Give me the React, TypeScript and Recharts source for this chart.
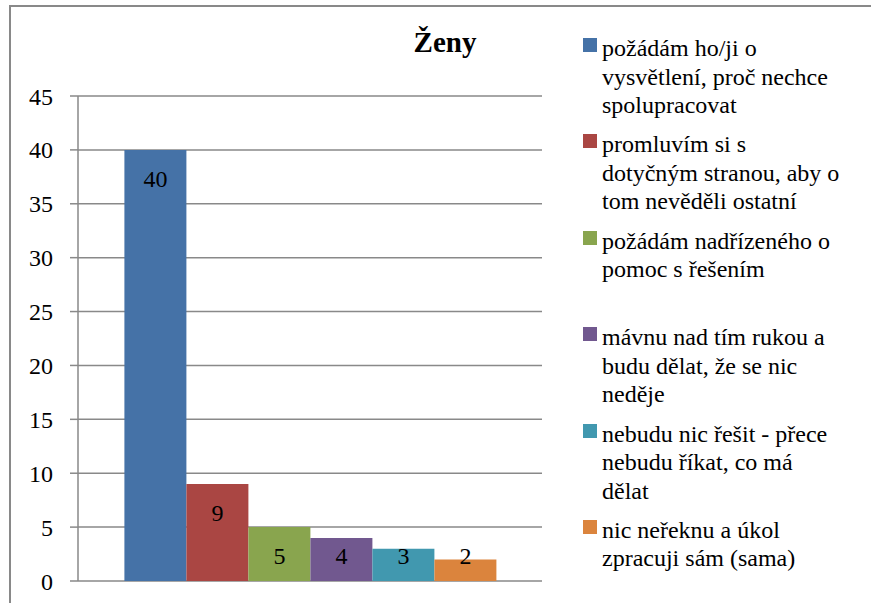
import React from "react";
import { BarChart, Bar, YAxis, XAxis, CartesianGrid, Legend, LabelList } from "recharts";

const categories = ["Ženy"];

const legendLines: string[][] = [
  ["požádám ho/ji o", "vysvětlení, proč nechce", "spolupracovat"],
  ["promluvím si s", "dotyčným stranou, aby o", "tom nevěděli ostatní"],
  ["požádám nadřízeného o", "pomoc s řešením"],
  ["mávnu nad tím rukou a", "budu dělat, že se nic", "neděje"],
  ["nebudu nic řešit - přece", "nebudu říkat, co má", "dělat"],
  ["nic neřeknu a úkol", "zpracuji sám (sama)"],
];

const seriesValues = [40, 9, 5, 4, 3, 2];
const seriesColors = ["#4572A7", "#AA4643", "#89A54E", "#71588F", "#4198AF", "#DB843D"];
const yTicks = [0, 5, 10, 15, 20, 25, 30, 35, 40, 45];

const seriesNames = legendLines.map((l) => l.join(" "));
const data = categories.map((c) => {
  const row: Record<string, string | number> = { name: c };
  seriesNames.forEach((s, i) => {
    row[`s${i}`] = seriesValues[i];
  });
  return row;
});

const FONT = "Times New Roman, Liberation Serif, Tinos, Nimbus Roman, DejaVu Serif, serif";
const GRID = "#898989";

// Excel-like "inside end" label, kept above the bottom of the plot
function BarValueLabel(props: any) {
  const { x, y, width, height, value } = props;
  const bottom = y + height;
  const cy = Math.min(y + 29, bottom - 25);
  return (
    <text x={x + width / 2} y={cy + 8} textAnchor="middle" style={{ fontFamily: FONT }} fontSize={24} fill="#000">
      {value}
    </text>
  );
}

function LegendBox() {
  return (
    <div style={{ fontFamily: FONT, fontSize: 24, color: "#000", lineHeight: "28.5px" }}>
      {legendLines.map((lines, i) => (
        <div key={i} style={{ position: "relative", height: 96.4, paddingLeft: 22 }}>
          <span
            style={{
              position: "absolute",
              left: 3,
              top: 4,
              width: 14,
              height: 14,
              background: seriesColors[i],
            }}
          />
          {lines.map((t, j) => (
            <div key={j} style={{ whiteSpace: "nowrap" }}>
              {t}
            </div>
          ))}
        </div>
      ))}
    </div>
  );
}

export default function App() {
  return (
    <div style={{ position: "absolute", left: 0, top: 0, width: 871, height: 603, overflow: "hidden", background: "#fff", fontFamily: FONT }}>
      <div
        style={{
          position: "absolute",
          left: 9,
          top: 5,
          width: 900,
          height: 650,
          border: `2px solid ${GRID}`,
        }}
      />
      <div
        style={{
          position: "absolute",
          left: 345,
          width: 200,
          top: 24,
          textAlign: "center",
          fontFamily: FONT,
          fontSize: 29,
          fontWeight: "bold",
          lineHeight: "36px",
        }}
      >
        {categories[0]}
      </div>
      <div style={{ position: "absolute", left: 0, top: 0 }}>
        <BarChart
          width={871}
          height={603}
          data={data}
          margin={{ top: 96, right: 38, bottom: 22, left: 18 }}
          barCategoryGap="10%"
          barGap={0}
          style={{ fontFamily: FONT }}
        >
          <CartesianGrid horizontal vertical={false} stroke={GRID} strokeWidth={1.5} />
          <XAxis dataKey="name" hide />
          <YAxis
            width={60}
            domain={[0, 45]}
            ticks={yTicks}
            interval={0}
            axisLine={{ stroke: GRID, strokeWidth: 1.5 }}
            tickLine={{ stroke: GRID, strokeWidth: 1.5 }}
            tickSize={8}
            tickMargin={17}
            tick={{ fill: "#000", fontSize: 24, fontFamily: FONT }}
          />
          <Legend
            layout="vertical"
            align="right"
            verticalAlign="top"
            content={() => <LegendBox />}
            wrapperStyle={{ position: "absolute", left: 580, top: 34, width: 291, right: "auto" }}
          />
          {seriesNames.map((s, i) => (
            <Bar key={s} dataKey={`s${i}`} name={s} fill={seriesColors[i]} isAnimationActive={false}>
              <LabelList dataKey={`s${i}`} content={BarValueLabel} />
            </Bar>
          ))}
        </BarChart>
      </div>
    </div>
  );
}
